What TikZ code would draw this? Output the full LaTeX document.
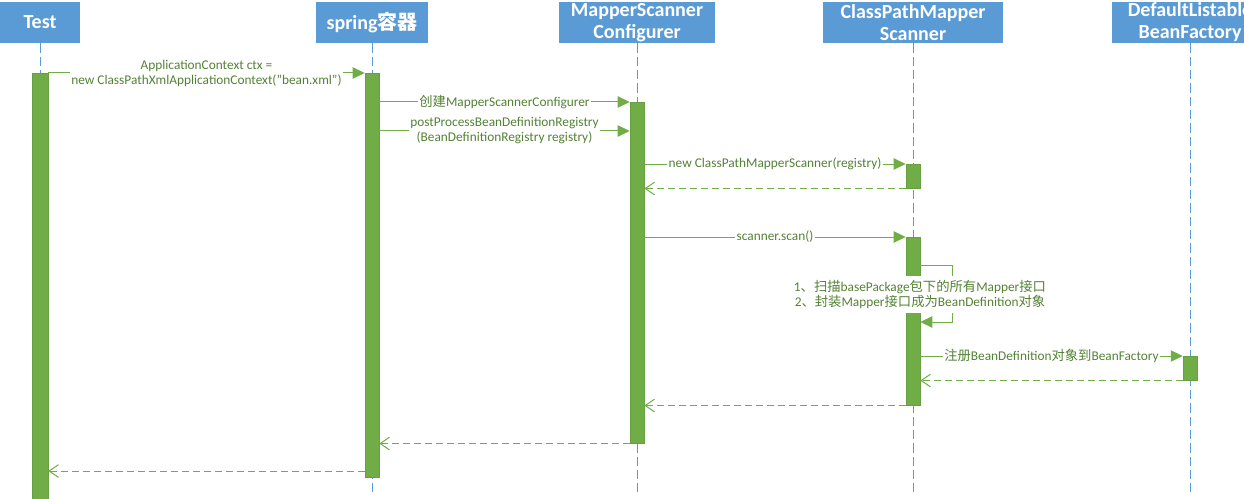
\documentclass[tikz,border=0pt]{standalone}
\usepackage{fontspec}
\setmainfont{Carlito}
\newfontfamily\cjk{Noto Sans CJK SC}
\usetikzlibrary{arrows.meta}

\definecolor{hdrblue}{HTML}{5B9BD5}
\definecolor{bargreen}{HTML}{70AD47}
\definecolor{txtgreen}{HTML}{548235}
\newcommand{\zh}[1]{{\cjk #1}}

\begin{document}
\begin{tikzpicture}[x=0.75pt, y=-0.75pt,
    header/.style={fill=hdrblue, text=white, align=center, inner sep=0pt,
        minimum height=30.75pt, font=\fontsize{15}{16.5}\selectfont\bfseries},
    lifeline/.style={draw=hdrblue, line width=0.75pt, dash pattern=on 7pt off 3pt},
    bar/.style={fill=bargreen, draw=bargreen!92!black, line width=0.4pt,
        inner sep=0pt, minimum width=10.5pt, anchor=north},
    msg/.style={draw=bargreen, line width=0.75pt, -{Triangle[length=9pt,width=8.5pt]}},
    ret/.style={draw=bargreen, line width=0.75pt, dash pattern=on 5.25pt off 3pt,
        -{Straight Barb[length=7pt,width=9.5pt]}},
    msglbl/.style={fill=white, text=txtgreen, align=center, inner sep=1pt,
        font=\fontsize{10}{11.25}\selectfont}]
    \useasboundingbox (0,0) rectangle (1244,499);

    % heads
    \node[header, minimum width=60pt] (test) at (40,22.5) {Test};
    \node[header, minimum width=84pt] (spring) at (372,22.5) {spring\zh{容器}};
    \node[header, minimum width=117pt] (msc) at (637,22.5) {MapperScanner\\Configurer};
    \node[header, minimum width=135pt] (cpms) at (913,22.5) {ClassPathMapper\\Scanner};
    \node[header, minimum width=117pt] (dlbf) at (1190,22.5) {DefaultListable\\BeanFactory};

    % lifelines
    \coordinate (bottom) at (0,492);
    \foreach \who in {test,spring,msc,cpms,dlbf}
        \draw[lifeline] (\who.south) -- (\who.south |- bottom);

    % activations
    \node[bar, minimum width=12pt, minimum height=327.75pt] (tbar) at (40,73) {};
    \node[bar, minimum height=303pt] (sbar) at (372,73) {};
    \node[bar, minimum height=255.75pt] (mbar) at (637,102) {};
    \node[bar, minimum height=18pt] (cbara) at (913,164) {};
    \node[bar, minimum height=126pt] (cbarb) at (913,237) {};
    \node[bar, minimum height=18pt] (dbar) at (1190,356) {};

    \coordinate (r3) at (0,131);
    \coordinate (rself) at (0,265);
    \coordinate (rback) at (0,322);
    \coordinate (rlast) at (0,471);

    % calls
    \draw[msg] (tbar.north east) -- node[msglbl] {ApplicationContext ctx =\\new ClassPathXmlApplicationContext("bean.xml")} (sbar.north west);
    \draw[msg] (sbar.east |- mbar.north) -- node[msglbl] {\zh{创建}MapperScannerConfigurer} (mbar.north west);
    \draw[msg] (sbar.east |- r3) -- node[msglbl] {postProcessBeanDefinitionRegistry\\(BeanDefinitionRegistry registry)} (mbar.west |- r3);
    \draw[msg] (mbar.east |- cbara.north) -- node[msglbl] {new ClassPathMapperScanner(registry)} (cbara.north west);
    \draw[msg] (mbar.east |- cbarb.north) -- node[msglbl] {scanner.scan()} (cbarb.north west);
    \draw[msg] (cbarb.east |- rself) -- ++(32,0) |- (cbarb.east |- rback);
    \node[msglbl, inner sep=3pt] (scanlbl) at (920,294.5) {1\zh{、扫描}basePackage\zh{包下的所有}Mapper\zh{接口}\\2\zh{、封装}Mapper\zh{接口成为}BeanDefinition\zh{对象}};
    \draw[msg] (cbarb.east |- dbar.north) -- node[msglbl] {\zh{注册}BeanDefinition\zh{对象到}BeanFactory} (dbar.north west);

    % returns
    \draw[ret] (cbara.south west) -- (mbar.east |- cbara.south);
    \draw[ret] (dbar.south west) -- (cbarb.east |- dbar.south);
    \draw[ret] (cbarb.south west) -- (mbar.east |- cbarb.south);
    \draw[ret] (mbar.south west) -- (sbar.east |- mbar.south);
    \draw[ret] (sbar.west |- rlast) -- (tbar.east |- rlast);
\end{tikzpicture}
\end{document}
